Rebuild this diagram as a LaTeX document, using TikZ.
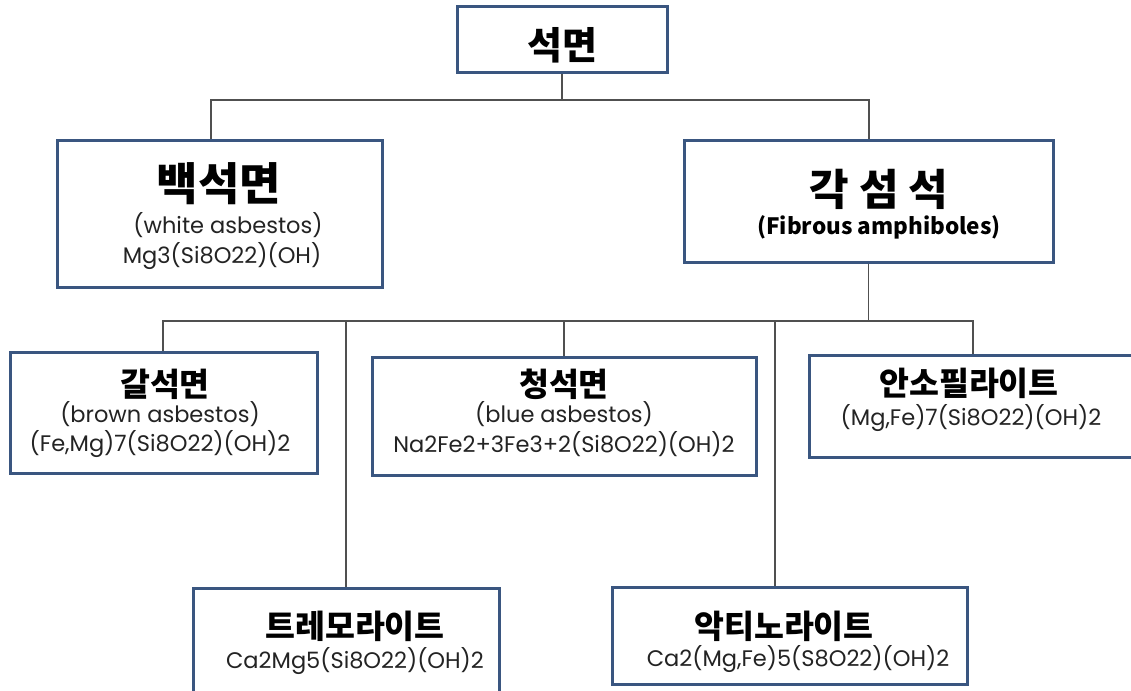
\documentclass[tikz,border=0pt]{standalone}
\usepackage{fontspec}
\setmainfont{Poppins}
\newfontfamily\kor{Noto Sans CJK KR}
\definecolor{boxblue}{RGB}{58, 86, 128}
\definecolor{linegray}{RGB}{80, 80, 80}
\definecolor{textgray}{RGB}{35, 35, 35}
\usetikzlibrary{positioning, calc}
\tikzset{
  box/.style={draw=boxblue, line width=3pt, fill=white, inner sep=0pt},
  conn/.style={draw=linegray, line width=1.4pt},
  bigtitle/.style={font=\kor\bfseries\fontsize{45}{50}\selectfont, inner sep=0pt},
  midtitle/.style={font=\kor\bfseries\fontsize{32.5}{36}\selectfont, inner sep=0pt},
  subline/.style={font=\fontsize{22.5}{26}\selectfont, text=textgray, inner sep=0pt}
}

\begin{document}
\begin{tikzpicture}[x=1pt, y=-1pt]
  \path[use as bounding box, fill=white] (0,0) rectangle (1131,690);
  \clip (0,0) rectangle (1131,690);

  % boxes
  \node[box, minimum width=210pt, minimum height=66pt] (root) at (562,40) {};
  \node[box, minimum width=325pt, minimum height=147pt] (white) at (219.5,213.5) {};
  \node[box, minimum width=369pt, minimum height=122pt] (amph) at (868.5,201) {};
  \node[box, minimum width=307pt, minimum height=121pt] (brown) at (163.5,412.5) {};
  \node[box, minimum width=384pt, minimum height=118pt] (blue) at (564,416) {};
  \node[box, minimum width=328pt, minimum height=102pt] (antho) at (973,406) {};
  \node[box, minimum width=306pt, minimum height=112pt] (tremo) at (346,644) {};
  \node[box, minimum width=355pt, minimum height=97pt] (acti) at (789.5,635.5) {};

  % texts
  \node[bigtitle, font=\kor\bfseries\fontsize{38}{42}\selectfont] (rootT) at (562,45) {석면};

  \node[bigtitle] (whiteT) at (219,184) {백석면};
  \node[subline] (whiteS) at (228,225) {(white asbestos)};
  \node[subline] (whiteF) at (222,256) {Mg3(Si8O22)(OH)};

  \node[bigtitle, font=\kor\bfseries\fontsize{43}{48}\selectfont] (amphT) at (879,189) {각 섬 석};
  \node[font=\kor\bfseries\fontsize{22.5}{26}\selectfont, inner sep=0pt] (amphS) at (879,227) {(Fibrous amphiboles)};

  \node[midtitle] (brownT) at (165,384) {갈석면};
  \node[subline] (brownS) at (160,414) {(brown asbestos)};
  \node[subline] (brownF) at (160,444) {(Fe,Mg)7(Si8O22)(OH)2};

  \node[midtitle] (blueT) at (564,384) {청석면};
  \node[subline] (blueS) at (564,414) {(blue asbestos)};
  \node[subline] (blueF) at (564,444) {Na2Fe2+3Fe3+2(Si8O22)(OH)2};

  \node[midtitle] (anthoT) at (969,383) {안소필라이트};
  \node[subline] (anthoF) at (971,418) {(Mg,Fe)7(Si8O22)(OH)2};

  \node[midtitle] (tremoT) at (355,626) {트레모라이트};
  \node[subline] (tremoF) at (355,661) {Ca2Mg5(Si8O22)(OH)2};

  \node[midtitle] (actiT) at (784,626) {악티노라이트};
  \node[subline] (actiF) at (798,659) {Ca2(Mg,Fe)5(S8O22)(OH)2};

  % connectors
  \coordinate (busAL) at (211,100);
  \coordinate (busAR) at (869,100);
  \coordinate (busBL) at (163,321);
  \coordinate (busBR) at (973,321);
  \coordinate (dropA) at (775,321);
  \draw[conn] (root.south) -- (root.south |- busAL);
  \draw[conn] (white.north -| busAL) |- (busAR) -- (amph.north -| busAR);
  \draw[conn] (amph.south) -- (amph.south |- busBL);
  \draw[conn] (brown.north -| busBL) |- (busBR) -- (antho.north -| busBR);
  \draw[conn] (blue.north) -- (blue.north |- busBL);
  \draw[conn] (tremo.north) -- (tremo.north |- busBL);
  \draw[conn] (acti.north -| dropA) -- (dropA);
\end{tikzpicture}
\end{document}
